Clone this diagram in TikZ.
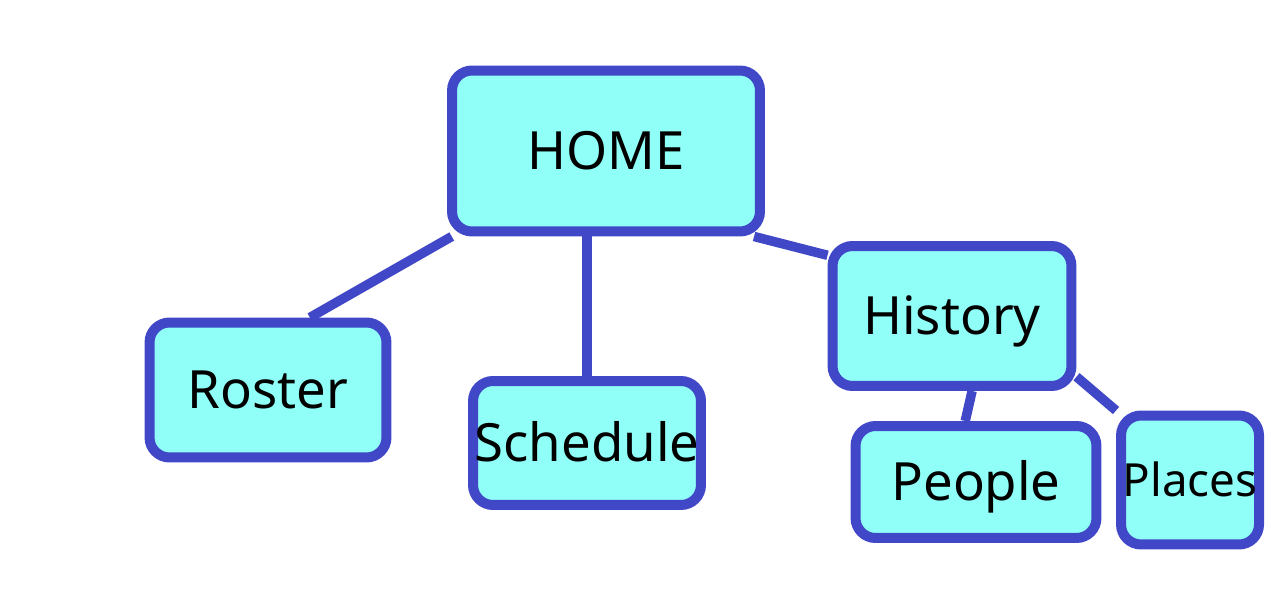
\documentclass[tikz,border=0pt]{standalone}
\usepackage{fontspec}
\setmainfont{Noto Sans}
\usepackage{tikz}
\usetikzlibrary{positioning,calc}

\definecolor{linkblue}{HTML}{4048C8}
\definecolor{pagecyan}{HTML}{8FFFF8}

\begin{document}
\begin{tikzpicture}[
    x=0.02cm, y=-0.02cm,
    page/.style={rectangle, rounded corners=0.4cm, draw=linkblue, fill=pagecyan,
        line width=0.2cm, inner sep=0pt, text height=21pt, text depth=0pt,
        font=\fontsize{30}{36}\selectfont},
    link/.style={draw=linkblue, line width=0.19cm}
]
\useasboundingbox (0,0) rectangle (1284,588);

% Top page
\node[page, minimum width=6.16cm, minimum height=3.22cm] (home) at (606,151) {HOME};

% Second level
\node[page, minimum width=4.74cm, minimum height=2.7cm] (roster) at (268,390) {Roster};
\node[page, minimum width=4.56cm, minimum height=2.48cm] (schedule) at (587,443) {Schedule};
\node[page, minimum width=4.78cm, minimum height=2.8cm] (history) at (952,316) {History};

% Third level
\node[page, minimum width=4.82cm, minimum height=2.24cm] (people) at (976,482) {People};
\node[page, minimum width=2.76cm, minimum height=2.58cm, text height=18.5pt,
      font=\fontsize{26}{31}\selectfont] (places) at (1190,480) {Places};

% Links
\draw[link] (home.-151) -- (roster.60);
\draw[link] (schedule.north) -- (schedule.north |- home.south);
\draw[link] (home.-30) -- (history.154);
\draw[link] (history.-75) -- (people.100);
\draw[link] (history.-26) -- (places.north west);
\end{tikzpicture}
\end{document}
